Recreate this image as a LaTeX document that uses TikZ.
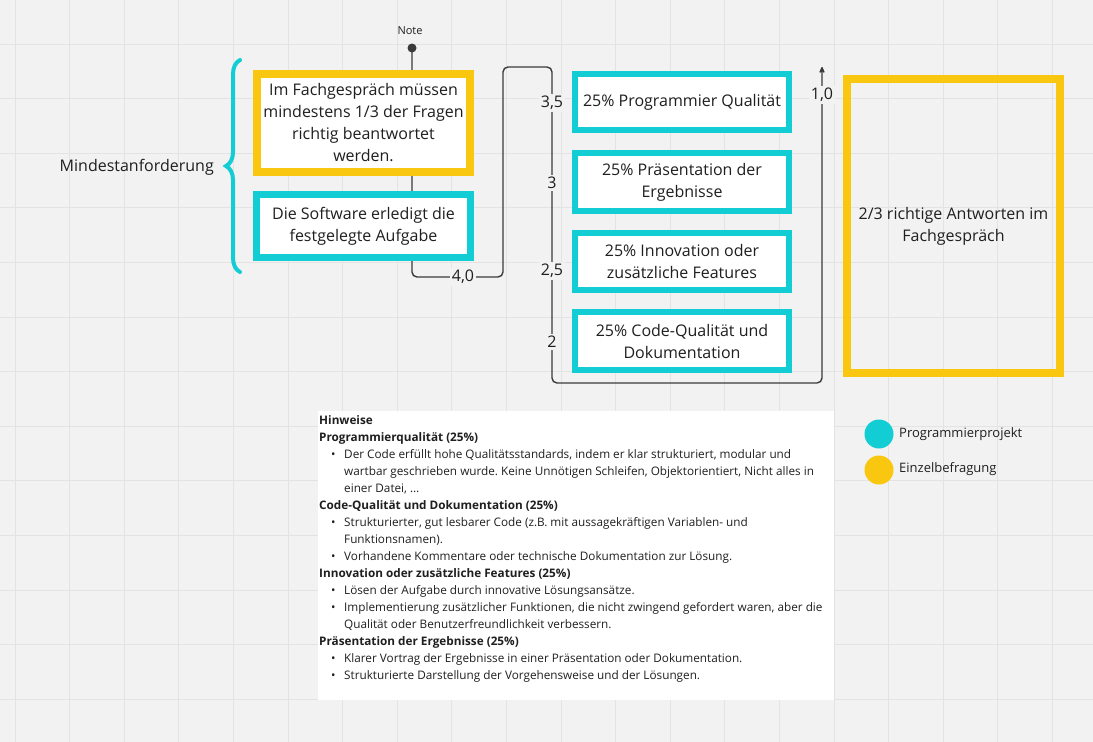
\documentclass[tikz,border=0pt]{standalone}
\usepackage{fontspec}
\setmainfont{Open Sans}
\usetikzlibrary{arrows.meta,decorations.pathreplacing}
\definecolor{bgc}{HTML}{F2F2F2}
\definecolor{gridc}{HTML}{E3E3E3}
\definecolor{cyanc}{HTML}{12CDD4}
\definecolor{yelc}{HTML}{FAC710}
\definecolor{txt}{HTML}{1F1F1F}
\definecolor{linec}{HTML}{3A3A3A}
\frenchspacing
\newcommand\hwbul{\hspace*{12pt}\makebox[13pt][l]{•}}
\newcommand\hwcont{\hspace*{25pt}}
\tikzset{
  boxtext/.style={font=\fontsize{16}{22}\selectfont, text=txt, align=center, inner sep=0pt},
  rcbox/.style={boxtext, draw=cyanc, fill=white, line width=6pt, minimum width=214pt, minimum height=#1},
  lcbox/.style={boxtext, draw=cyanc, fill=white, line width=7pt, minimum width=214pt, minimum height=#1},
  lybox/.style={boxtext, draw=yelc, fill=white, line width=8pt, minimum width=213pt, minimum height=#1},
  bigybox/.style={boxtext, draw=yelc, line width=8pt, minimum width=213pt, minimum height=#1},
  conn/.style={draw=linec, line width=1.4pt, rounded corners=5pt},
  lbl/.style={fill=bgc, text=txt, inner sep=2pt, font=\fontsize{16}{18}\selectfont},
  legdot/.style={circle, fill=#1, minimum size=29pt, inner sep=0pt},
  legtxt/.style={anchor=west, text=txt, inner sep=0pt, font=\fontsize{13}{16}\selectfont}
}
\begin{document}
\begin{tikzpicture}[x=1pt,y=-1pt]
\fill[bgc] (0,0) rectangle (1093,742);
\useasboundingbox (0,0) rectangle (1093,742);
\foreach \i in {0,...,19} \draw[gridc, line width=1pt] ({15+54.6*\i},0) -- ({15+54.6*\i},742);
\foreach \j in {1,...,13} \draw[gridc, line width=1pt] (0,{-10.6+54.6*\j}) -- (1093,{-10.6+54.6*\j});

% connector path
\coordinate (notept) at (412,48);
\coordinate (p1) at (412,277);
\coordinate (p2) at (503,277);
\coordinate (p3) at (503,67);
\coordinate (p4) at (552,67);
\coordinate (p5) at (552,383);
\coordinate (p6) at (822,383);
\coordinate (p7) at (822,67);
\draw[conn, -{Stealth[length=8pt,width=7pt,round]}] (notept) -- (p1) -- (p2) -- (p3) -- (p4) -- (p5) -- (p6) -- (p7);

\node[text=txt, inner sep=0pt, font=\fontsize{11}{13}\selectfont] (note) at (410,31) {Note};
\node[circle, fill=linec, minimum size=9pt, inner sep=0pt] (notedot) at (notept) {};

% left side
\draw[cyanc, line width=4pt, line cap=round, decorate, decoration={brace, amplitude=14pt}] (240,272) -- (240,60);
\node[anchor=east, text=txt, inner sep=0pt, font=\fontsize{16}{20}\selectfont] (minreq) at (214,167) {Mindestanforderung};

\node[lybox=98pt] (req1) at (363.5,123) {Im Fachgespräch müssen\\mindestens 1/3 der Fragen\\richtig beantwortet\\werden.};
\node[lcbox=63pt] (req2) at (363.5,226) {Die Software erledigt die\\festgelegte Aufgabe};

% right boxes
\node[rcbox=56pt] (q1) at (682,102) {25\% Programmier Qualität};
\node[rcbox=58pt] (q2) at (682,182) {25\% Präsentation der\\Ergebnisse};
\node[rcbox=57pt] (q3) at (682,261.5) {25\% Innovation oder\\zusätzliche Features};
\node[rcbox=58pt] (q4) at (682,341) {25\% Code-Qualität und\\Dokumentation};

\node[bigybox=294pt] (oral) at (953.5,226) {2/3 richtige Antworten im\\Fachgespräch};

% labels on the connector
\node[lbl] (l40) at (463,277) {4,0};
\node[lbl] (l35) at (552,103) {3,5};
\node[lbl] (l30) at (552,183) {3};
\node[lbl] (l25) at (552,271) {2,5};
\node[lbl] (l20) at (552,342) {2};
\node[lbl] (l10) at (822,95) {1,0};

% notes box
\node[fill=white, minimum width=516pt, minimum height=289pt, inner sep=0pt, anchor=north west] (hwbox) at (318,411) {};
\node[anchor=north west, inner sep=0pt, align=left, text=txt, font=\fontsize{11.75}{17}\selectfont] (hwtext) at (319,415.5) {%
\textbf{Hinweise}\\
\textbf{Programmierqualität (25\%)}\\
\hwbul Der Code erfüllt hohe Qualitätsstandards, indem er klar strukturiert, modular und\\
\hwcont wartbar geschrieben wurde. Keine Unnötigen Schleifen, Objektorientiert, Nicht alles in\\
\hwcont einer Datei, …\\
\textbf{Code-Qualität und Dokumentation (25\%)}\\
\hwbul Strukturierter, gut lesbarer Code (z.B. mit aussagekräftigen Variablen- und\\
\hwcont Funktionsnamen).\\
\hwbul Vorhandene Kommentare oder technische Dokumentation zur Lösung.\\
\textbf{Innovation oder zusätzliche Features (25\%)}\\
\hwbul Lösen der Aufgabe durch innovative Lösungsansätze.\\
\hwbul Implementierung zusätzlicher Funktionen, die nicht zwingend gefordert waren, aber die\\
\hwcont Qualität oder Benutzerfreundlichkeit verbessern.\\
\textbf{Präsentation der Ergebnisse (25\%)}\\
\hwbul Klarer Vortrag der Ergebnisse in einer Präsentation oder Dokumentation.\\
\hwbul Strukturierte Darstellung der Vorgehensweise und der Lösungen.};

% legend
\node[legdot=cyanc] (lg1) at (879,434) {};
\node[legdot=yelc] (lg2) at (879,470) {};
\node[legtxt] (lg1t) at (899,434) {Programmierprojekt};
\node[legtxt] (lg2t) at (899,469) {Einzelbefragung};
\end{tikzpicture}
\end{document}
